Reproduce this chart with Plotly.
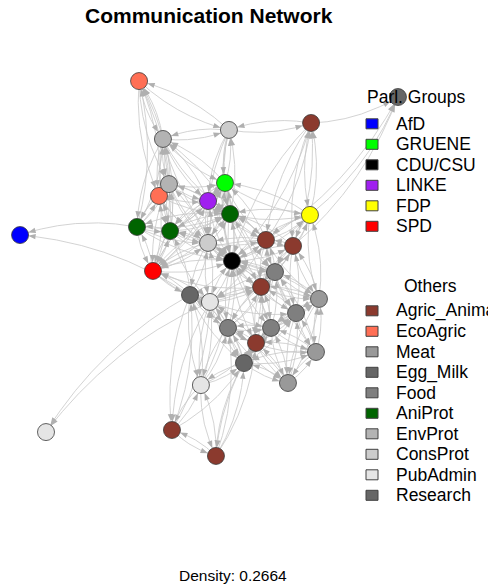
import numpy as np
import plotly.graph_objects as go

# vertex layout (rescaled layout coordinates) and group of each vertex
node_x = [-1.005, 0.085, 0.122, -0.005, 0.537, -0.298, 0.543, 0.303, 0.447, 0.277,
          0.250, -0.197, 0.037, -0.372, -0.266, 0.112, -0.383, -0.207, -0.245, -0.213,
          0.106, -0.005, 0.005, -0.043, -0.867, 0.351, 0.463, 0.101, 0.330, 0.585,
          0.569, 0.420, -0.101, 0.186, 1.005]
node_y = [0.178, 0.455, 0.040, 0.359, 0.285, -0.013, 0.774, 0.152, 0.120, -0.098,
          -0.396, -0.859, -0.997, 0.997, 0.386, 0.290, 0.221, 0.199, 0.689, 0.449,
          0.737, 0.136, -0.178, -0.620, -0.870, -0.019, -0.237, -0.316, -0.316, -0.162,
          -0.444, -0.609, -0.141, -0.503, 0.912]
node_group = ["AfD", "GRUENE", "CDU/CSU", "LINKE", "FDP", "SPD",
              "Agric_Anima", "Agric_Anima", "Agric_Anima", "Agric_Anima", "Agric_Anima",
              "Agric_Anima", "Agric_Anima", "EcoAgric", "EcoAgric",
              "AniProt", "AniProt", "AniProt", "EnvProt", "EnvProt",
              "ConsProt", "ConsProt", "PubAdmin", "PubAdmin", "PubAdmin",
              "Food", "Food", "Food", "Food", "Meat", "Meat", "Meat",
              "Egg_Milk", "Egg_Milk", "Research"]

# outgoing ties of each vertex (targets by index)
edge_lists = [
    [],
    [2, 3, 15, 20, 18, 21, 7, 4, 5, 17, 25, 9],
    [1, 4, 5, 7, 8, 9, 15, 21, 25, 26, 28, 29, 22, 27, 10, 6, 17, 3],
    [1, 2, 15, 21, 18, 5, 7, 17, 19],
    [2, 7, 8, 15, 6, 25, 29, 1, 34],
    [2, 17, 16, 21, 15, 19, 22, 32, 9, 1, 3, 14],
    [20, 34, 2, 7, 4, 8],
    [2, 8, 4, 15, 25, 9, 6, 1, 21, 29, 26, 34, 5, 3],
    [7, 4, 2, 25, 6, 29, 26, 9, 15, 34],
    [2, 7, 25, 26, 28, 10, 29, 27, 22, 8, 15],
    [9, 28, 27, 33, 26, 31, 30, 2, 22, 12],
    [12, 23, 32, 22, 33],
    [11, 23, 33, 27, 10],
    [18, 19, 20, 14],
    [13, 18, 19, 17, 16, 2, 3, 15, 21],
    [1, 2, 3, 17, 21, 16, 20, 4, 7, 19, 18, 5, 25],
    [0, 13, 17, 5, 19, 14, 15, 2, 18, 21],
    [16, 15, 5, 2, 19, 14, 21, 3, 1, 18, 13, 22],
    [13, 20, 19, 14, 1, 15, 3, 2, 17, 16],
    [18, 13, 14, 17, 15, 3, 1, 2, 16, 5, 21],
    [13, 6, 1, 18, 15, 3, 2, 21],
    [2, 15, 17, 1, 3, 5, 22, 7, 32, 19, 25, 9],
    [2, 32, 27, 24, 9, 23, 25, 21, 33, 28, 5, 11, 26, 7],
    [22, 32, 33, 11, 12, 27, 10, 2],
    [],
    [2, 7, 8, 9, 26, 29, 28, 4, 27, 22, 30],
    [25, 29, 30, 28, 9, 31, 8, 2, 10, 33],
    [28, 22, 9, 10, 33, 32, 2, 25, 31, 23],
    [27, 26, 9, 10, 25, 31, 30, 29, 33, 2],
    [26, 30, 25, 8, 4, 9, 28, 31, 2],
    [29, 26, 31, 28, 10, 33, 25],
    [30, 33, 10, 28, 26, 27, 29],
    [22, 2, 5, 21, 24, 0, 23, 27, 9, 11, 17, 33],
    [10, 27, 28, 31, 23, 12, 30, 22, 32, 9, 26],
    [],
]

party_groups = ["AfD", "GRUENE", "CDU/CSU", "LINKE", "FDP", "SPD"]
party_colors = ["#0000FF", "#00FF00", "#000000", "#A020F0", "#FFFF00", "#FF0000"]
other_groups = ["Agric_Anima", "EcoAgric", "Meat", "Egg_Milk", "Food", "AniProt",
                "EnvProt", "ConsProt", "PubAdmin", "Research"]
other_colors = ["#8B3A2E", "#FF6F55", "#999999", "#666666", "#7F7F7F", "#006400",
                "#B3B3B3", "#CCCCCC", "#E5E5E5", "#666666"]
density = 0.2664

# the page body keeps its default 8px margin, so the figure is 8px smaller
OFF = 8
W, H = 496 - OFF, 585 - OFF
S = 188.0                          # pixels per layout unit
X0, Y0 = 209.0 - OFF, 268.5 - OFF  # figure pixel of layout origin
R = 8.5 / S                        # vertex radius
ALEN, AHW = 7.5 / S, 2.7 / S       # arrow length / half width
CURVE = 0.13

color_of = dict(zip(party_groups + other_groups, party_colors + other_colors))
pos = np.column_stack([node_x, node_y])

ex, ey, ax_, ay_ = [], [], [], []
t = np.linspace(0, 1, 300)
for s, targets in enumerate(edge_lists):
    for d in targets:
        p0, p2 = pos[s], pos[d]
        v = p2 - p0
        L = np.hypot(*v)
        perp = np.array([v[1], -v[0]]) / L
        p1 = (p0 + p2) / 2 + CURVE * L * perp
        pts = ((1 - t) ** 2)[:, None] * p0 + (2 * (1 - t) * t)[:, None] * p1 + (t ** 2)[:, None] * p2
        dist = np.hypot(*(pts - p2).T)
        tip = pts[np.argmax(dist < R)]
        bi = np.argmax(dist < R + ALEN)
        base = pts[bi]
        ex += list(pts[:bi + 1, 0]) + [None]
        ey += list(pts[:bi + 1, 1]) + [None]
        dvec = tip - base
        dvec = dvec / np.hypot(*dvec)
        n = np.array([-dvec[1], dvec[0]]) * AHW
        b = tip - dvec * ALEN
        ax_ += [tip[0], b[0] + n[0], b[0] - n[0], tip[0], None]
        ay_ += [tip[1], b[1] + n[1], b[1] - n[1], tip[1], None]

fig = go.Figure()
fig.add_trace(go.Scatter(x=ex, y=ey, mode="lines", hoverinfo="skip",
                         line=dict(color="#C8C8C8", width=0.8)))
fig.add_trace(go.Scatter(x=ax_, y=ay_, mode="lines", fill="toself", hoverinfo="skip",
                         fillcolor="#B0B0B0", line=dict(width=0, color="#B0B0B0")))
fig.add_trace(go.Scatter(
    x=node_x, y=node_y, mode="markers", text=node_group, hoverinfo="text",
    marker=dict(size=17, color=[color_of[g] for g in node_group],
                line=dict(color="#3A3A3A", width=0.8)),
))


def px(x):
    return (x - OFF) / W


def py(y):
    return 1 - (y - OFF) / H


font = "Liberation Sans, Arial, sans-serif"
annotations = [
    dict(text="<b>Communication Network</b>", x=px(209), y=py(16), font=dict(size=21)),
    dict(text="Density: %.4f" % density, x=px(233), y=py(575), font=dict(size=15.5)),
    dict(text="Parl. Groups", x=px(416), y=py(97), font=dict(size=17.5)),
    dict(text="Others", x=px(430), y=py(286), font=dict(size=17.5)),
]
shapes = []
legend_rows = [(party_groups, party_colors, 123.8, 20.5),
               (other_groups, other_colors, 310.8, 20.5)]
for labels, cols, top, step in legend_rows:
    for i, (lab, col) in enumerate(zip(labels, cols)):
        yc = top + i * step
        shapes.append(dict(type="rect", xref="paper", yref="paper",
                           x0=px(366), x1=px(378), y0=py(yc - 5), y1=py(yc + 5),
                           fillcolor=col, line=dict(color="#404040", width=1)))
        annotations.append(dict(text=lab, x=px(394), y=py(yc), xanchor="left",
                                font=dict(size=17.5)))
for a in annotations:
    a.update(xref="paper", yref="paper", showarrow=False)
    a.setdefault("xanchor", "center")
    a["yanchor"] = "middle"
    a["font"].update(family=font, color="black")

fig.update_layout(
    width=W, height=H,
    margin=dict(l=0, r=0, t=0, b=0),
    paper_bgcolor="white", plot_bgcolor="white",
    showlegend=False,
    xaxis=dict(range=[-X0 / S, (W - X0) / S], visible=False),
    yaxis=dict(range=[(Y0 - H) / S, Y0 / S], visible=False),
    annotations=annotations,
    shapes=shapes,
)
fig.write_html("out.html")
